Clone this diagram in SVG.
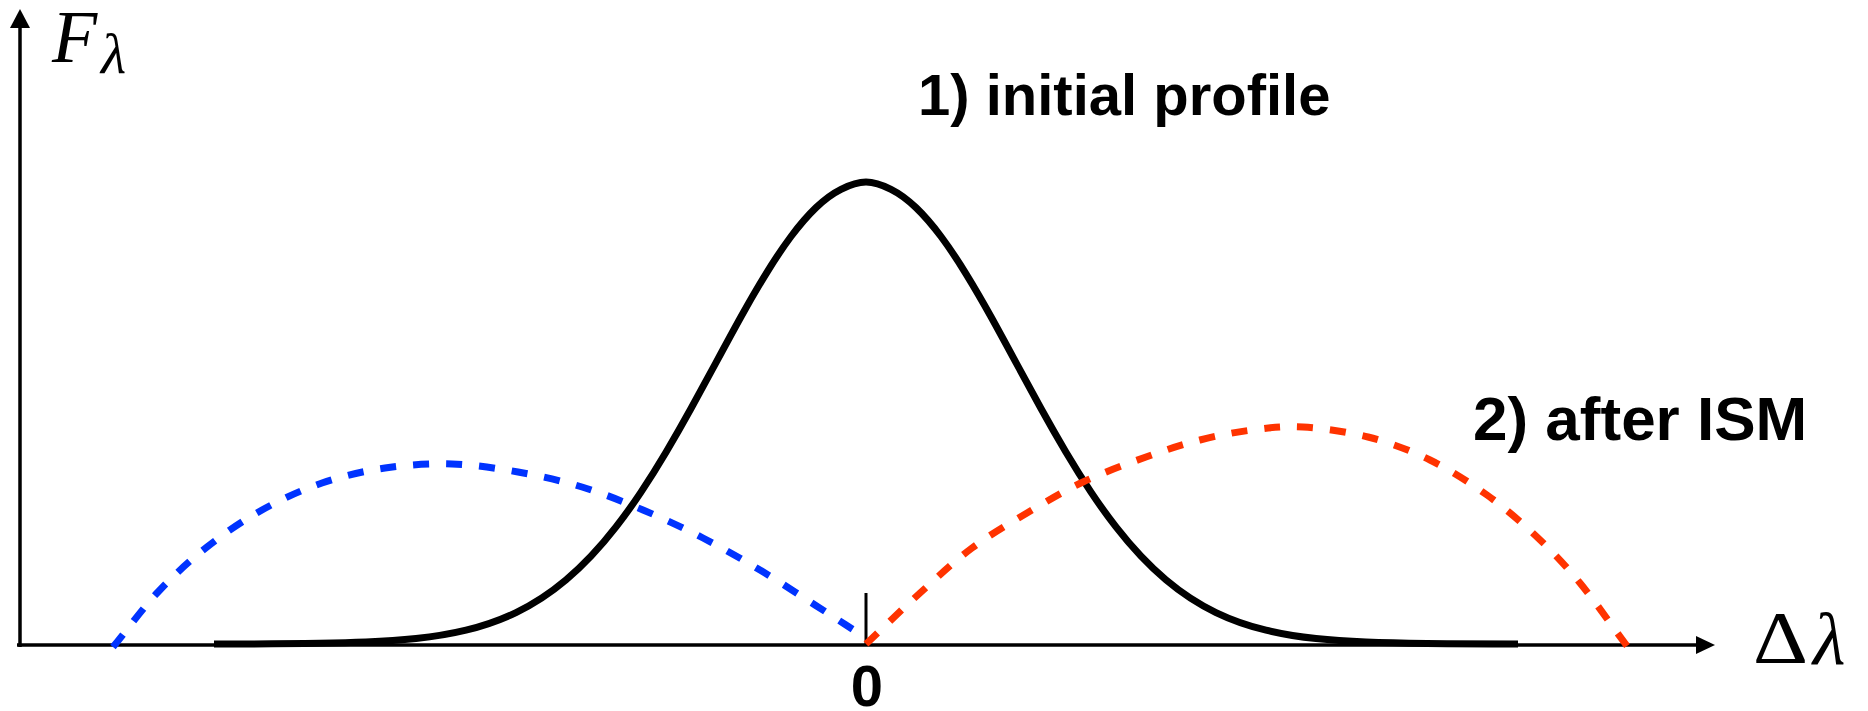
<svg xmlns="http://www.w3.org/2000/svg" width="1868" height="711" viewBox="0 0 1868 711">
<style>
.axis{stroke:#000;stroke-width:3.5;fill:none}
.tick{stroke:#000;stroke-width:3;fill:none}
.gauss{stroke:#000;stroke-width:7;fill:none;stroke-linecap:butt;stroke-linejoin:round}
.dash{stroke-width:7;fill:none;stroke-dasharray:16 17;stroke-linecap:butt}
.blue{stroke:#0033ff}
.red{stroke:#ff3300}
.lbl{font-family:"Liberation Sans",Arial,Helvetica,sans-serif;font-weight:bold;fill:#000}
.math{font-family:"Liberation Serif","Times New Roman",serif;fill:#000}
</style>
<rect width="1868" height="711" fill="#fff"/>
<g id="connectors">
  <g id="y-axis">
    <line class="axis" x1="20" y1="647" x2="20" y2="26"/>
    <polygon points="20,9 10,28 30,28" fill="#000"/>
  </g>
  <g id="x-axis">
    <line class="axis" x1="17" y1="645" x2="1698" y2="645"/>
    <polygon points="1715,645 1696,636 1696,654" fill="#000"/>
  </g>
  <line id="zero-tick" class="tick" x1="866" y1="593" x2="866" y2="645"/>
</g>
<g id="initial-profile">
  <path class="gauss" d="M214,644 C266,644 332,643.5 366,642.1 C382.67,641.4 399.33,640.39 416,638.6 C432.67,636.81 449.33,634.24 466,630.2 C482.67,626.16 499.33,620.65 516,612.6 C532.67,604.55 549.33,593.98 566,579.9 C574.33,572.86 582.67,565.04 591,556.2 C599.33,547.36 607.67,537.62 616,526.9 C624.33,516.18 632.67,504.62 641,492.1 C649.33,479.58 657.67,466.25 666,452.2 C674.33,438.15 682.67,423.6 691,408.5 C699.33,393.4 707.67,378.06 716,362.6 C724.33,347.14 732.67,331.68 741,316.7 C749.33,301.72 757.67,287.36 766,273.8 C774.33,260.24 782.67,247.69 791,236.5 C799.33,225.31 807.67,215.59 816,207.6 C824.33,199.61 832.67,193.46 841,189.3 C849.33,185.14 857.67,182 866,182 C874.33,182 882.67,185.14 891,189.3 C899.33,193.46 907.67,199.61 916,207.6 C924.33,215.59 932.67,225.31 941,236.5 C949.33,247.69 957.67,260.24 966,273.8 C974.33,287.36 982.67,301.72 991,316.7 C999.33,331.68 1007.67,347.14 1016,362.6 C1024.33,378.06 1032.67,393.4 1041,408.5 C1049.33,423.6 1057.67,438.15 1066,452.2 C1074.33,466.25 1082.67,479.58 1091,492.1 C1099.33,504.62 1107.67,516.18 1116,526.9 C1124.33,537.62 1132.67,547.36 1141,556.2 C1149.33,565.04 1157.67,572.86 1166,579.9 C1182.67,593.98 1199.33,604.55 1216,612.6 C1232.67,620.65 1249.33,626.16 1266,630.2 C1282.67,634.24 1299.33,636.81 1316,638.6 C1332.67,640.39 1349.33,641.4 1366,642.1 C1400,643.5 1466,644 1518,644"/>
</g>
<g id="blue-profile">
  <path class="dash blue" d="M113,647 C128,628.7 142.3,608.7 158,592 C173.7,575.3 189.7,560.7 207,547 C224.3,533.3 242.8,520.7 262,510 C281.2,499.3 301.5,490 322,483 C342.5,476 363.3,471.2 385,468 C406.7,464.8 429.8,463.3 452,464 C474.2,464.7 496.3,468.2 518,472 C539.7,475.8 561.2,480.7 582,487 C602.8,493.3 622.8,501.5 643,510 C663.2,518.5 683.5,528 703,538 C722.5,548 741.3,558.8 760,570 C778.7,581.2 798.3,594.3 815,605 C831.7,615.7 845,624.3 860,634"/>
</g>
<g id="red-profile">
  <path class="dash red" d="M866,644 C884,627 902.3,609 920,593 C937.7,577 954.2,561.3 972,548 C989.8,534.7 1008.5,524 1027,513 C1045.5,502 1063.2,491.3 1083,482 C1102.8,472.7 1126.5,464 1146,457 C1165.5,450 1182.3,444.5 1200,440 C1217.7,435.5 1234.8,432.2 1252,430 C1269.2,427.8 1283.7,425.8 1303,427 C1322.3,428.2 1346.8,431.5 1368,437 C1389.2,442.5 1410.2,450.3 1430,460 C1449.8,469.7 1469.2,482.2 1487,495 C1504.8,507.8 1521.5,522.3 1537,537 C1552.5,551.7 1565,564.8 1580,583 C1595,601.2 1611.3,625 1627,646"/>
</g>
<g id="label-flux">
  <text class="math" x="52" y="62" font-size="74" font-style="italic">F</text>
  <text class="math" x="101" y="73" font-size="58" font-style="italic">λ</text>
</g>
<g id="label-dlambda">
  <text class="math" x="1753" y="663" font-size="75" textLength="55" lengthAdjust="spacingAndGlyphs">Δ</text>
  <text class="math" x="1813" y="664" font-size="75" font-style="italic">λ</text>
</g>
<g id="label-initial">
  <text class="lbl" x="918" y="115" font-size="58">1) initial profile</text>
</g>
<g id="label-after">
  <text class="lbl" x="1473" y="440" font-size="62">2) after ISM</text>
</g>
<g id="label-zero">
  <text class="lbl" x="867" y="706" font-size="58" text-anchor="middle">0</text>
</g>
</svg>
